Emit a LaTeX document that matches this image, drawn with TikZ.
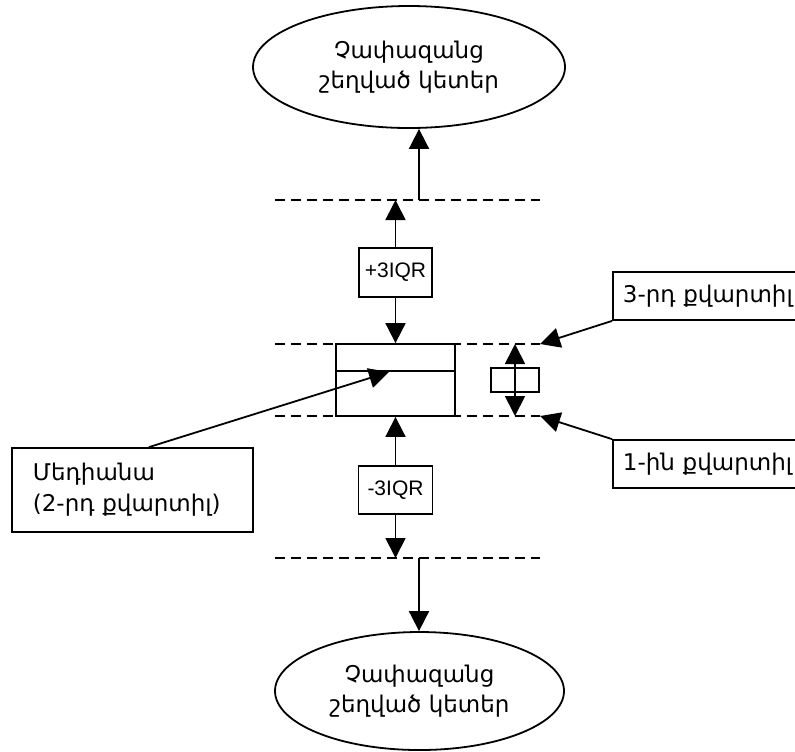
\documentclass[tikz,border=0pt]{standalone}
\usepackage{fontspec}
\setmainfont{Liberation Sans}
\newfontfamily\armfont{DejaVu Sans}
\usetikzlibrary{positioning,shapes.geometric,arrows.meta}

\begin{document}
\begin{tikzpicture}[x=0.5pt, y=-0.5pt, line width=0.9pt,
  arr/.style={-{Triangle[length=10pt,width=10pt]}},
  fence/.style={line width=0.7pt, dash pattern=on 5pt off 3pt},
  every node/.style={draw, inner sep=0pt, font=\fontsize{10.5}{13.5}\selectfont},
  outnode/.style={ellipse, align=center, font=\armfont\fontsize{11.5}{15}\selectfont},
  lbl/.style={anchor=west, align=left, inner xsep=5pt, font=\armfont\fontsize{11.5}{15.5}\selectfont}]
\useasboundingbox (0,0) rectangle (795,751);
\foreach \y/\n in {200/hi,344/qu,416/ql,558/lo} {\draw[fence] (275,\y) coordinate (\n L) -- (540,\y) coordinate (\n R);}
\node[outnode, minimum width=156pt, minimum height=61pt] (outtop) at (409,67) {Չափազանց\\շեղված կետեր};
\node[outnode, minimum width=144.5pt, minimum height=59pt] (outbot) at (419.5,691) {Չափազանց\\շեղված կետեր};
\node[minimum width=36.5pt, minimum height=24.5pt] (plus) at (395.5,272.5) {+3IQR};
\node[minimum width=37pt, minimum height=24pt] (minus) at (395.5,490) {-3IQR};
\node[minimum width=59.5pt, minimum height=36pt] (iqr) at (395.5,380) {};
\node[minimum width=24pt, minimum height=12pt] (qbox) at (515,380) {};
\node[lbl, text width=180pt, minimum height=24pt] (q3) at (612,296) {3-րդ քվարտիլ};
\node[lbl, text width=180pt, minimum height=24pt] (q1) at (612,464) {1-ին քվարտիլ};
\node[lbl, text width=99.5pt, inner xsep=10.5pt, minimum height=42pt] (med) at (11,490) {Մեդիանա\\(2-րդ քվարտիլ)};
\coordinate (topout) at (419,200);
\coordinate (botout) at (419,558);
\coordinate (medpt) at (389,372);
\draw ([yshift=-14pt]iqr.north west) -- ([yshift=-14pt]iqr.north east);
\draw[arr] (topout) -- (topout |- outtop.south);
\draw[arr] (plus) -- (plus |- hiL);
\draw[arr] (plus) -- (iqr);
\draw[arr] (minus) -- (iqr);
\draw[arr] (minus) -- (minus |- loL);
\draw[arr] (botout) -- (botout |- outbot.north);
\draw[{Triangle[length=10pt,width=10pt]}-{Triangle[length=10pt,width=10pt]}] (qbox |- quL) -- (qbox |- qlL);
\draw[arr] ([xshift=8.25pt]med.north) -- (medpt);
\draw[arr] (q3.south west) -- (quR);
\draw[arr] (q1.north west) -- (qlR);
\end{tikzpicture}
\end{document}
